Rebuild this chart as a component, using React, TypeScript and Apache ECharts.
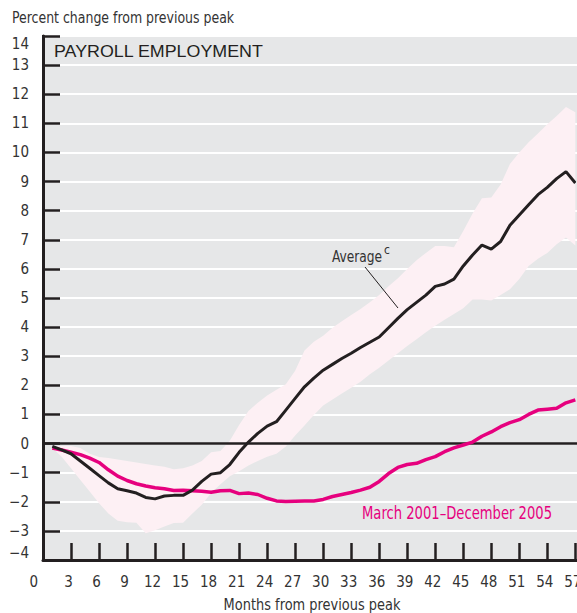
import React, { useEffect, useRef } from 'react';
import * as echarts from 'echarts';

const months = [1, 2, 3, 4, 5, 6, 7, 8, 9, 10, 11, 12, 13, 14, 15, 16, 17, 18, 19, 20, 21, 22, 23, 24, 25, 26, 27, 28, 29, 30, 31, 32, 33, 34, 35, 36, 37, 38, 39, 40, 41, 42, 43, 44, 45, 46, 47, 48, 49, 50, 51, 52, 53, 54, 55, 56, 57];

const average = [-0.1, -0.22, -0.35, -0.6, -0.85, -1.1, -1.35, -1.55, -1.62, -1.7, -1.85, -1.9, -1.8, -1.78, -1.78, -1.6, -1.3, -1.05, -1.0, -0.72, -0.3, 0.05, 0.35, 0.6, 0.75, 1.15, 1.55, 1.95, 2.25, 2.52, 2.72, 2.92, 3.1, 3.3, 3.48, 3.66, 3.98, 4.3, 4.6, 4.85, 5.1, 5.4, 5.48, 5.65, 6.1, 6.48, 6.82, 6.68, 6.94, 7.5, 7.85, 8.2, 8.55, 8.8, 9.1, 9.34, 8.95];

const recent = [-0.15, -0.22, -0.3, -0.38, -0.5, -0.65, -0.9, -1.12, -1.27, -1.38, -1.46, -1.52, -1.55, -1.61, -1.6, -1.62, -1.64, -1.67, -1.62, -1.61, -1.72, -1.7, -1.75, -1.88, -1.97, -1.99, -1.98, -1.97, -1.97, -1.92, -1.82, -1.75, -1.68, -1.6, -1.5, -1.3, -1.03, -0.82, -0.72, -0.68, -0.55, -0.45, -0.28, -0.15, -0.05, 0.05, 0.25, 0.4, 0.58, 0.72, 0.82, 1.0, 1.15, 1.18, 1.21, 1.4, 1.5];

const rangeHigh = [-0.12, -0.08, -0.08, -0.15, -0.35, -0.46, -0.5, -0.55, -0.6, -0.65, -0.7, -0.75, -0.8, -0.88, -0.85, -0.75, -0.6, -0.3, -0.26, 0.1, 0.64, 1.12, 1.4, 1.65, 1.85, 2.04, 2.5, 3.2, 3.5, 3.7, 3.98, 4.2, 4.42, 4.62, 4.85, 5.1, 5.4, 5.68, 6.0, 6.3, 6.55, 6.79, 6.79, 6.74, 7.3, 7.9, 8.43, 8.45, 8.9, 9.6, 10.0, 10.35, 10.65, 10.97, 11.25, 11.56, 11.38];

const rangeLow = [-0.15, -0.45, -0.85, -1.25, -1.65, -2.05, -2.4, -2.65, -2.7, -2.72, -3.08, -2.98, -2.85, -2.73, -2.72, -2.4, -2.1, -1.7, -1.4, -1.12, -0.95, -0.75, -0.6, -0.45, -0.35, -0.1, 0.28, 0.62, 0.98, 1.31, 1.51, 1.72, 1.92, 2.12, 2.38, 2.6, 2.85, 3.1, 3.35, 3.58, 3.82, 4.05, 4.25, 4.45, 4.65, 4.95, 4.95, 4.91, 5.1, 5.3, 5.65, 6.1, 6.35, 6.55, 6.85, 7.08, 6.8];

const COND = "'DejaVu Sans Condensed', 'DejaVu Sans', sans-serif";
const DARK = '#231f20';
const TEXT = '#333333';
const MAGENTA = '#e6007e';

export default function App() {
  const ref = useRef<HTMLDivElement>(null);
  useEffect(() => {
    if (!ref.current) return;
    const chart = echarts.init(ref.current, undefined, { renderer: 'svg' });
    const pairs = (ys: number[]) => months.map((m, i) => [m, ys[i]]);
    chart.setOption({
      animation: false,
      grid: {
        left: 43, top: 36, width: 537, height: 524,
        show: true, backgroundColor: '#e6e7e8', borderColor: DARK, borderWidth: 2,
        containLabel: false,
        outerBoundsMode: 'none',
      },
      xAxis: {
        type: 'value', min: 0, max: 57.5, interval: 3,
        axisLine: { show: true, onZero: false, lineStyle: { color: DARK, width: 3 } },
        axisTick: { show: true, inside: true, length: 17, lineStyle: { color: DARK, width: 2.5 } },
        axisLabel: {
          fontFamily: COND, fontSize: 15, color: TEXT, margin: 14,
          showMaxLabel: false,
          alignMinLabel: 'right', padding: [0, 5, 0, 0],
          formatter: (v: number) => (v % 3 === 0 ? String(v) : ''),
        },
        splitLine: { show: false },
      },
      yAxis: {
        type: 'value', min: -4, max: 14, interval: 1,
        axisLine: { show: true, onZero: false, lineStyle: { color: DARK, width: 3 } },
        axisTick: { show: true, inside: true, length: 17, lineStyle: { color: DARK, width: 2.5 } },
        axisLabel: {
          fontFamily: COND, fontSize: 15, color: TEXT, margin: 14,
          verticalAlignMaxLabel: 'top', verticalAlignMinLabel: 'bottom',
          formatter: (v: number) => String(v).replace('-', '\u2212'),
        },
        splitLine: { show: true, lineStyle: { color: '#ffffff', width: 2 } },
      },
      series: [
        {
          type: 'custom',
          name: 'Range',
          silent: true,
          data: [0],
          renderItem: (params: any, api: any) => {
            const top = months.map((m, i) => api.coord([m, rangeHigh[i]]));
            const bottom = months.map((m, i) => api.coord([m, rangeLow[i]])).reverse();
            return {
              type: 'polygon',
              shape: { points: top.concat(bottom) },
              style: { fill: '#fdf0f4' },
            };
          },
          z: 2,
        },
        {
          type: 'line',
          name: 'zero',
          silent: true,
          data: [[0, 0], [57.5, 0]],
          symbol: 'none',
          lineStyle: { color: DARK, width: 2.5 },
          z: 3,
        },
        {
          type: 'line',
          name: 'March 2001–December 2005',
          data: pairs(recent),
          symbol: 'none',
          lineStyle: { color: MAGENTA, width: 3.5 },
          z: 4,
        },
        {
          type: 'line',
          name: 'Average',
          data: pairs(average),
          symbol: 'none',
          lineStyle: { color: DARK, width: 3 },
          z: 5,
        },
      ],
      graphic: [
        {
          type: 'text', x: 12, y: 18, scaleX: 0.87, z: 10,
          style: { text: 'Percent change from previous peak', fontFamily: COND, fontSize: 16, fill: TEXT, verticalAlign: 'middle' },
        },
        {
          type: 'text', x: 54, y: 51, scaleX: 1.05, z: 10,
          style: { text: 'PAYROLL EMPLOYMENT', fontFamily: "'Liberation Sans', Arial, sans-serif", fontSize: 17, fill: DARK, verticalAlign: 'middle' },
        },
        {
          type: 'text', x: 312, y: 605, scaleX: 0.9, z: 10,
          style: { text: 'Months from previous peak', fontFamily: COND, fontSize: 16, fill: TEXT, align: 'center', verticalAlign: 'middle' },
        },
        {
          type: 'text', x: 332, y: 256, scaleX: 0.85, z: 10,
          style: { text: 'Average', fontFamily: COND, fontSize: 16, fill: TEXT, verticalAlign: 'middle' },
        },
        {
          type: 'text', x: 384, y: 250, z: 10,
          style: { text: 'c', fontFamily: COND, fontSize: 12, fill: TEXT, verticalAlign: 'middle' },
        },
        {
          type: 'line', z: 10,
          shape: { x1: 365, y1: 267, x2: 398, y2: 308 },
          style: { stroke: DARK, lineWidth: 1 },
        },
        {
          type: 'text', x: 362, y: 513, scaleX: 0.86, z: 10,
          style: { text: 'March 2001\u2013December 2005', fontFamily: COND, fontSize: 17, fill: MAGENTA, verticalAlign: 'middle' },
        },
      ],
    });
    return () => chart.dispose();
  }, []);
  return <div ref={ref} style={{ position: 'absolute', left: 0, top: 0, width: 577, height: 613, overflow: 'hidden' }} />;
}
